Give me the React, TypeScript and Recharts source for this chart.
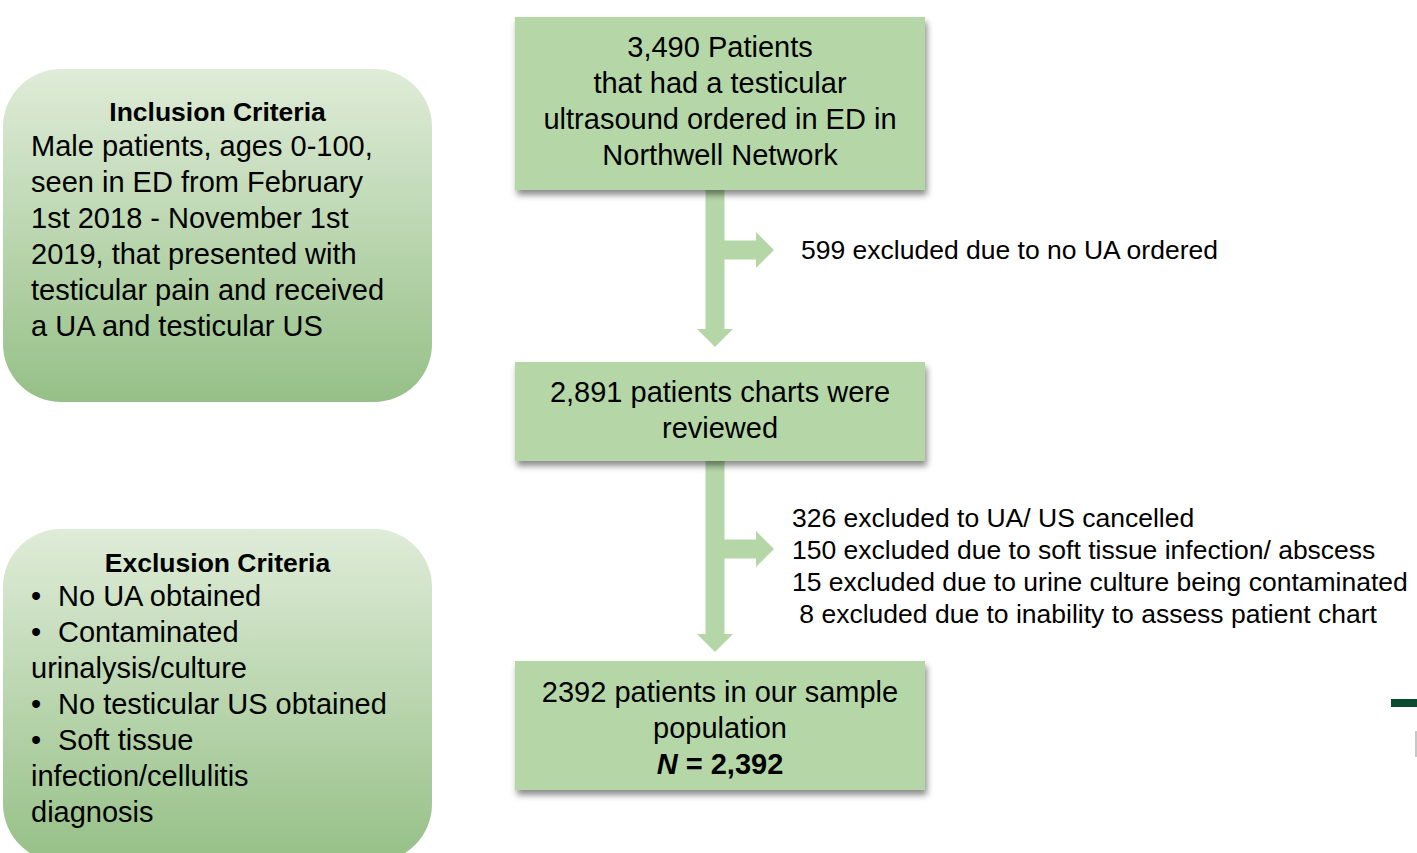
import React from 'react';
import { ComposedChart, XAxis, YAxis, Scatter, ReferenceArea } from 'recharts';

// ---- chart content ----
const stageLines: string[][] = [
  ['3,490 Patients', 'that had a testicular', 'ultrasound ordered in ED in', 'Northwell Network'],
  ['2,891 patients charts were', 'reviewed'],
  ['2392 patients in our sample', 'population'],
];
const finalN = '2,392';

const excludedStep1 = ['599 excluded due to no UA ordered'];
const excludedStep2 = [
  '326 excluded to UA/ US cancelled',
  '150 excluded due to soft tissue infection/ abscess',
  '15 excluded due to urine culture being contaminated',
  ' 8 excluded due to inability to assess patient chart',
];

const inclusionTitle = 'Inclusion Criteria';
const inclusionLines = [
  'Male patients, ages 0-100,',
  'seen in ED from February',
  '1st 2018 - November 1st',
  '2019, that presented with',
  'testicular pain and received',
  'a UA and testicular US',
];

const exclusionTitle = 'Exclusion Criteria';
const exclusionLines = [
  { bullet: true, text: 'No UA obtained' },
  { bullet: true, text: 'Contaminated' },
  { bullet: false, text: 'urinalysis/culture' },
  { bullet: true, text: 'No testicular US obtained' },
  { bullet: true, text: 'Soft tissue' },
  { bullet: false, text: 'infection/cellulitis' },
  { bullet: false, text: 'diagnosis' },
];

// ---- layout ----
const W = 1417;
const H = 853;
const FONT = '"Liberation Sans", Arial, Helvetica, sans-serif';
const GREEN = '#B5D7A8';
const LINE = 36;

const stageX: [number, number] = [515, 925];
const stageY: [number, number][] = [[17, 190], [362, 461], [661, 790]];
const firstLineOffset = [30, 30, 31];

// chart table built from the stage list
const stageTable = stageLines.map((l, i) => ({
  x: (stageX[0] + stageX[1]) / 2,
  y: (stageY[i][0] + stageY[i][1]) / 2,
  label: l[0],
}));

const makeStageShape = (idx: number) => (props: any) => {
  const { x, y, width, height } = props;
  const lines = stageLines[idx];
  const isLast = idx === stageLines.length - 1;
  const cx = x + width / 2;
  const y0 = y + firstLineOffset[idx];
  return (
    <g>
      <defs>
        <filter id={`boxShadow${idx}`} x="-5%" y="-10%" width="115%" height="135%">
          <feDropShadow dx="2" dy="5" stdDeviation="3" floodColor="#000" floodOpacity="0.45" />
        </filter>
      </defs>
      <rect x={x} y={y} width={width} height={height} fill={GREEN} filter={`url(#boxShadow${idx})`} />
      {lines.map((l, i) => (
        <text key={i} x={cx} y={y0 + i * LINE} textAnchor="middle" dominantBaseline="central"
          fontSize={29} fontFamily={FONT} fill="#000">{l}</text>
      ))}
      {isLast && (
        <text x={cx} y={y0 + lines.length * LINE} textAnchor="middle" dominantBaseline="central"
          fontSize={29} fontFamily={FONT} fontWeight="bold" fill="#000">
          <tspan fontStyle="italic">N</tspan> = {finalN}
        </text>
      )}
    </g>
  );
};

const downArrow = (props: any) => {
  const { x, y, width, height } = props;
  const shaft = 19;
  const head = 18;
  const cx = x + width / 2;
  const pts = [
    [cx - shaft / 2, y], [cx + shaft / 2, y], [cx + shaft / 2, y + height - head],
    [x + width, y + height - head], [cx, y + height], [x, y + height - head],
    [cx - shaft / 2, y + height - head],
  ].map(p => p.join(',')).join(' ');
  return <polygon points={pts} fill={GREEN} />;
};

const rightArrow = (props: any) => {
  const { x, y, width, height } = props;
  const shaft = 19;
  const head = 18;
  const cy = y + height / 2;
  const pts = [
    [x, cy - shaft / 2], [x + width - head, cy - shaft / 2], [x + width - head, y],
    [x + width, cy], [x + width - head, y + height], [x + width - head, cy + shaft / 2],
    [x, cy + shaft / 2],
  ].map(p => p.join(',')).join(' ');
  return <polygon points={pts} fill={GREEN} />;
};

const makeNoteShape = (lines: string[]) => (props: any) => {
  const { x, y } = props;
  return (
    <g>
      {lines.map((l, i) => (
        <text key={i} x={x} y={y + i * 32} dominantBaseline="central" fontSize={26.5}
          fontFamily={FONT} fill="#000" style={{ whiteSpace: 'pre' }}>{l}</text>
      ))}
    </g>
  );
};

const makeCriteriaShape = (kind: 'incl' | 'excl') => (props: any) => {
  const { x, y, width, height } = props;
  const gid = `grad-${kind}`;
  const title = kind === 'incl' ? inclusionTitle : exclusionTitle;
  const titleY = kind === 'incl' ? 43 : 34;
  const bodyY = kind === 'incl' ? 77 : 67;
  return (
    <g>
      <defs>
        <linearGradient id={gid} x1="0" y1="0" x2="0" y2="1">
          <stop offset="0%" stopColor="#DFECD8" />
          <stop offset="100%" stopColor="#96C087" />
        </linearGradient>
      </defs>
      <rect x={x} y={y} width={width} height={height} rx={58} ry={58} fill={`url(#${gid})`} />
      <text x={x + width / 2} y={y + titleY} textAnchor="middle" dominantBaseline="central"
        fontSize={26.5} fontWeight="bold" fontFamily={FONT} fill="#000">{title}</text>
      {kind === 'incl'
        ? inclusionLines.map((l, i) => (
          <text key={i} x={x + 28} y={y + bodyY + i * LINE} dominantBaseline="central"
            fontSize={29} fontFamily={FONT} fill="#000">{l}</text>
        ))
        : exclusionLines.map((l, i) => (
          <g key={i}>
            {l.bullet && (
              <text x={x + 28} y={y + bodyY + i * LINE} dominantBaseline="central"
                fontSize={29} fontFamily={FONT} fill="#000">•</text>
            )}
            <text x={x + (l.bullet ? 55 : 28)} y={y + bodyY + i * LINE} dominantBaseline="central"
              fontSize={29} fontFamily={FONT} fill="#000">{l.text}</text>
          </g>
        ))}
    </g>
  );
};

export default function App() {
  return (
    <div style={{ position: 'absolute', left: 0, top: 0, width: W, height: H, background: '#fff' }}>
      <ComposedChart width={W} height={H} data={stageTable} margin={{ top: 0, right: 0, bottom: 0, left: 0 }}>
        <XAxis type="number" dataKey="x" domain={[0, W]} hide allowDataOverflow />
        <YAxis type="number" dataKey="y" domain={[0, H]} reversed hide allowDataOverflow />

        {/* criteria panels */}
        <ReferenceArea x1={3} x2={432} y1={69} y2={402} shape={makeCriteriaShape('incl')} ifOverflow="visible" />
        <ReferenceArea x1={3} x2={432} y1={529} y2={862} shape={makeCriteriaShape('excl')} ifOverflow="visible" />

        {/* arrows */}
        <ReferenceArea x1={697} x2={733} y1={185} y2={347} shape={downArrow} ifOverflow="visible" />
        <ReferenceArea x1={715} x2={774} y1={232} y2={268} shape={rightArrow} ifOverflow="visible" />
        <ReferenceArea x1={697} x2={733} y1={456} y2={652} shape={downArrow} ifOverflow="visible" />
        <ReferenceArea x1={715} x2={774} y1={531} y2={567} shape={rightArrow} ifOverflow="visible" />

        {/* flow boxes */}
        {stageLines.map((_, i) => (
          <ReferenceArea key={i} x1={stageX[0]} x2={stageX[1]} y1={stageY[i][0]} y2={stageY[i][1]}
            shape={makeStageShape(i)} ifOverflow="visible" />
        ))}

        {/* exclusion notes */}
        <ReferenceArea x1={801} x2={1230} y1={250} y2={260} shape={makeNoteShape(excludedStep1)} ifOverflow="visible" />
        <ReferenceArea x1={792} x2={1410} y1={518} y2={620} shape={makeNoteShape(excludedStep2)} ifOverflow="visible" />

        {/* slide edge decoration */}
        <ReferenceArea x1={1391} x2={1417} y1={699} y2={707} fill="#0B4A33" fillOpacity={1} stroke="none" ifOverflow="visible" />
        <ReferenceArea x1={1415} x2={1417} y1={731} y2={757} fill="#C8C8C8" fillOpacity={1} stroke="none" ifOverflow="visible" />

        <Scatter dataKey="y" shape={() => <g />} isAnimationActive={false} />
      </ComposedChart>
    </div>
  );
}
